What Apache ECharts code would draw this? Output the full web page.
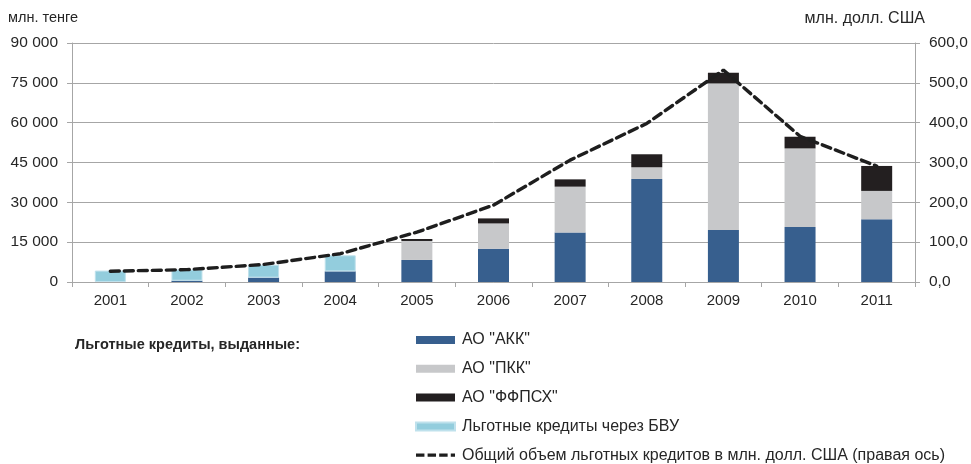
<!DOCTYPE html>
<html>
<head>
<meta charset="utf-8">
<script src="https://cdn.jsdelivr.net/npm/echarts@6/dist/echarts.min.js"></script>
<style>
  html, body { margin: 0; padding: 0; background: #fff; }
  #chart { width: 971px; height: 464px; }
</style>
</head>
<body>
<div id="chart"></div>
<script>
// Years on the category axis
const years = ['2001', '2002', '2003', '2004', '2005', '2006', '2007', '2008', '2009', '2010', '2011'];

// Preferential loans issued, million tenge (left axis)
const akk   = [0, 500, 1650, 4000, 8300, 12500, 18600, 38800, 19600, 20700, 23600];
const pkk   = [0, 0, 0, 0, 7150, 9550, 17300, 4400, 55200, 29600, 10700];
const ffpsh = [0, 0, 0, 0, 750, 1900, 2750, 4900, 4000, 4400, 9400];
const bvu   = [4300, 4200, 4850, 6050, 0, 0, 0, 0, 0, 0, 0];

// Total volume of preferential loans, million USD (right axis)
const totalUsd = [27, 31, 44, 71, 125, 193, 306, 398, 532, 366, 291];

const leftTicks = { min: 0, max: 90000, interval: 15000 };
const rightTicks = { min: 0, max: 600, interval: 100 };

const FONT = 'Liberation Sans';
const TEXT = '#262626';
const chart = echarts.init(document.getElementById('chart'), null, { renderer: 'canvas' });

// zero segments are left out so that their borders are not drawn
const skipZero = arr => arr.map(v => (v === 0 ? '-' : v));

function barSeries(name, data, color, border) {
  return {
    name: name,
    type: 'bar',
    stack: 'total',
    yAxisIndex: 0,
    data: skipZero(data),
    barWidth: 31,
    itemStyle: { color: color, borderColor: border || color, borderWidth: border ? 1 : 0 },
    emphasis: { disabled: true }
  };
}

const dashIcon = 'path://M0,0 L8,0 L8,3 L0,3 Z M11,0 L19,0 L19,3 L11,3 Z M22,0 L30,0 L30,3 L22,3 Z M33,0 L37,0 L37,3 L33,3 Z';

chart.setOption({
  animation: false,
  textStyle: { fontFamily: FONT },
  grid: { left: 72, right: 56, top: 43, bottom: 182, containLabel: false },
  graphic: [
    { type: 'text', left: 8, top: 10, style: { text: 'млн. тенге', font: '14.5px ' + FONT, fill: TEXT } },
    { type: 'text', right: 46, top: 11, style: { text: 'млн. долл. США', font: '16px ' + FONT, fill: TEXT } },
    { type: 'text', left: 75, top: 337, style: { text: 'Льготные кредиты, выданные:', font: 'bold 14.5px ' + FONT, fill: TEXT } }
  ],
  legend: {
    orient: 'vertical',
    left: 415,
    top: 332,
    height: 140,
    padding: 0,
    itemWidth: 39,
    itemHeight: 8,
    itemGap: 12.8,
    textStyle: { fontFamily: FONT, fontSize: 16, color: TEXT, padding: [0, 0, 0, 2], lineHeight: 16 },
    data: [
      { name: 'АО "АКК"', icon: 'rect' },
      { name: 'АО "ПКК"', icon: 'rect' },
      { name: 'АО "ФФПСХ"', icon: 'rect' },
      { name: 'Льготные кредиты через БВУ', icon: 'rect' },
      { name: 'Общий объем льготных кредитов в млн. долл. США (правая ось)', icon: dashIcon }
    ]
  },
  xAxis: {
    type: 'category',
    data: years,
    boundaryGap: true,
    axisLine: { lineStyle: { color: '#a6a6a6', width: 1 } },
    axisTick: { show: true, alignWithLabel: false, length: 5, lineStyle: { color: '#a6a6a6' } },
    axisLabel: { fontFamily: FONT, fontSize: 15, color: TEXT, margin: 11 }
  },
  yAxis: [
    {
      type: 'value',
      min: leftTicks.min, max: leftTicks.max, interval: leftTicks.interval,
      axisLine: { show: true, lineStyle: { color: '#a6a6a6' } },
      axisTick: { show: true, length: 5, lineStyle: { color: '#a6a6a6' } },
      splitLine: { show: true, lineStyle: { color: '#a6a6a6', width: 1 } },
      axisLabel: {
        fontFamily: FONT, fontSize: 15.5, color: TEXT, margin: 14,
        formatter: v => v === 0 ? '0' : String(v).replace(/\B(?=(\d{3})+(?!\d))/g, ' ')
      }
    },
    {
      type: 'value',
      min: rightTicks.min, max: rightTicks.max, interval: rightTicks.interval,
      position: 'right',
      axisLine: { show: true, lineStyle: { color: '#a6a6a6' } },
      axisTick: { show: true, length: 5, lineStyle: { color: '#a6a6a6' } },
      splitLine: { show: false },
      axisLabel: {
        fontFamily: FONT, fontSize: 15.5, color: TEXT, margin: 14,
        formatter: v => v.toFixed(1).replace('.', ',')
      }
    }
  ],
  series: [
    barSeries('АО "АКК"', akk, '#375f8e'),
    barSeries('АО "ПКК"', pkk, '#c7c8ca'),
    barSeries('АО "ФФПСХ"', ffpsh, '#231f20'),
    barSeries('Льготные кредиты через БВУ', bvu, '#93cddd', '#bfe1ec'),
    {
      name: 'Общий объем льготных кредитов в млн. долл. США (правая ось)',
      type: 'line',
      yAxisIndex: 1,
      data: totalUsd,
      symbol: 'none',
      itemStyle: { color: '#1e1e1e' },
      lineStyle: { color: '#1e1e1e', width: 3.4, type: [9, 5], cap: 'round' },
      z: 5,
      emphasis: { disabled: true }
    }
  ]
});
</script>
</body>
</html>
